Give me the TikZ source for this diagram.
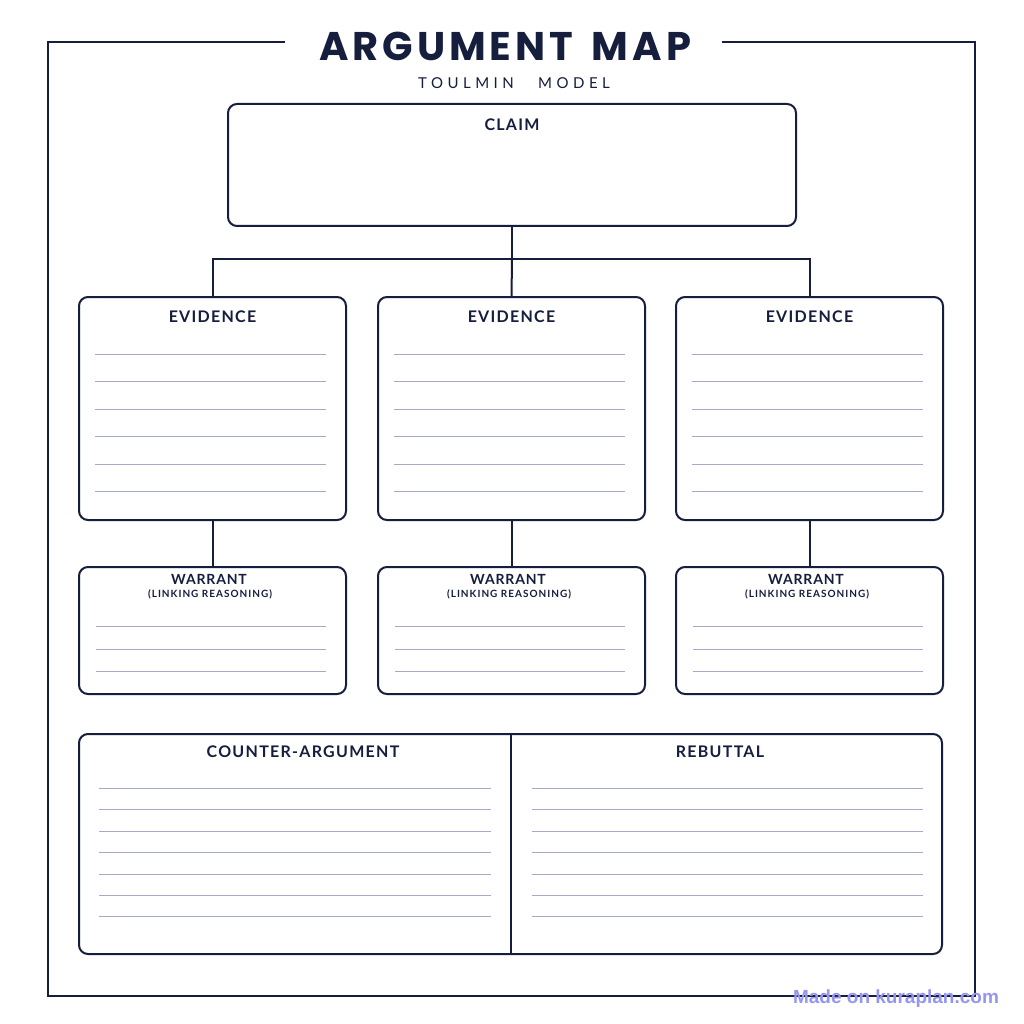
\documentclass[tikz,border=0pt]{standalone}
\usepackage{fontspec}
\setmainfont{Lato}
\newfontfamily\titlefont{Poppins}
\newfontfamily\markfont{Liberation Sans}
\definecolor{navy}{RGB}{22,30,62}
\definecolor{rulecol}{RGB}{165,170,198}
\definecolor{markcol}{RGB}{150,150,238}
\tikzset{
  panel/.style={draw=navy, line width=2pt, rounded corners=9pt, fill=white,
    inner sep=0pt, outer sep=0pt, anchor=north west},
  link/.style={draw=navy, line width=2pt},
  ruleline/.style={draw=rulecol, line width=1pt},
  head/.style={text=navy, inner sep=0pt,
    font=\bfseries\addfontfeatures{LetterSpace=8}\fontsize{16}{18}\selectfont},
  subhead/.style={text=navy, inner sep=0pt,
    font=\bfseries\addfontfeatures{LetterSpace=10}\fontsize{10}{12}\selectfont},
}
\begin{document}
\begin{tikzpicture}[x=1pt,y=-1pt]
  \useasboundingbox[fill=white] (0,0) rectangle (1024,1024);
  % frame with a gap for the title
  \draw[link] (285,42) -- (48,42) -- (48,996) -- (975,996) -- (975,42) -- (722,42);
  \node[text=navy, inner sep=0pt, font=\titlefont\bfseries\addfontfeatures{LetterSpace=10}\fontsize{40}{44}\selectfont]
    (title) at (505,46) {ARGUMENT\hspace{6pt} MAP};
  \node[text=navy, inner sep=0pt, font=\addfontfeatures{LetterSpace=30}\fontsize{15}{18}\selectfont]
    (subtitle) at (514,83) {TOULMIN\hspace{16pt} MODEL};

  % claim
  \node[panel, minimum width=568pt, minimum height=122pt] (claim) at (228,104) {};
  \node[head] (claimhead) at (512,125) {CLAIM};

  % evidence and warrant columns
  \foreach \x [count=\i] in {79,378,676} {
    \node[panel, minimum width=267pt, minimum height=223pt] (ev\i) at (\x,297) {};
    \node[head] (evhead\i) at (\x+133.5,317) {EVIDENCE};
    \foreach \y in {354,381,409,436,464,491}
      \draw[ruleline] (\x+16,\y) -- (\x+247,\y);
    \node[panel, minimum width=267pt, minimum height=127pt] (wa\i) at (\x,567) {};
    \node[head, font=\bfseries\addfontfeatures{LetterSpace=6}\fontsize{14}{16}\selectfont]
      (wahead\i) at (\x+130,579) {WARRANT};
    \node[subhead] (wasub\i) at (\x+131,594) {(LINKING REASONING)};
    \foreach \y in {626,649,671}
      \draw[ruleline] (\x+17,\y) -- (\x+247,\y);
    \draw[link] (ev\i.south) -- (wa\i.north);
  }

  % tree from claim to evidence
  \coordinate (fork) at (512,259);
  \draw[link] (claim.south) -- (fork);
  \draw[link] (fork) -| (ev1.north);
  \draw[link] (fork) -| (ev3.north);
  \draw[link] (fork) -- (ev2.north);

  % counter-argument and rebuttal
  \node[panel, minimum width=863pt, minimum height=220pt] (bottom) at (79,734) {};
  \draw[link] (bottom.north) -- (bottom.south);
  \node[head] (counterhead) at (303,752) {COUNTER-ARGUMENT};
  \node[head] (rebuttalhead) at (720,752) {REBUTTAL};
  \foreach \y in {788,809,831,852,874,895,916} {
    \draw[ruleline] (99,\y) -- (491,\y);
    \draw[ruleline] (532,\y) -- (923,\y);
  }

  \node[text=markcol, inner sep=0pt, font=\markfont\bfseries\fontsize{19}{22}\selectfont]
    (mark) at (896,999) {Made on kuraplan.com};
\end{tikzpicture}
\end{document}
